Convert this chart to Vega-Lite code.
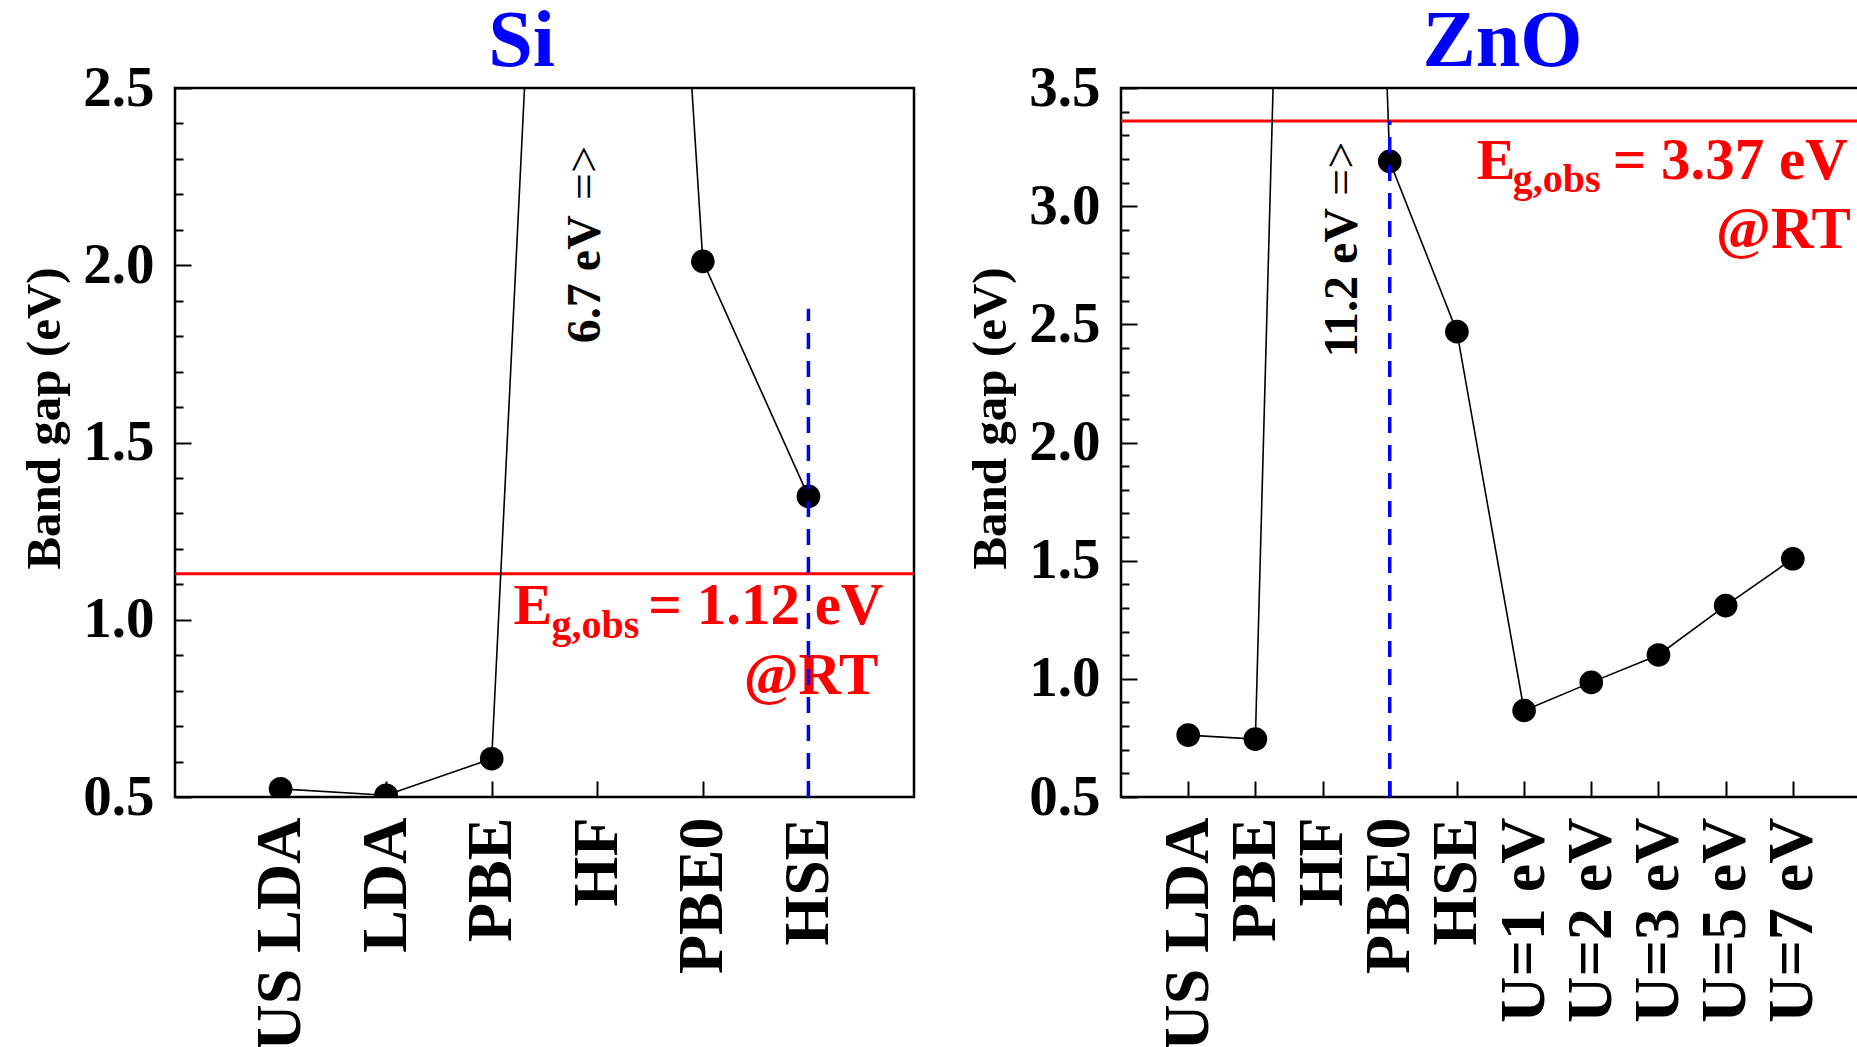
{
  "$schema": "https://vega.github.io/schema/vega-lite/v6.json",
  "background": "white",
  "padding": {"left": 19, "top": 0, "right": 0, "bottom": 0},
  "config": {
    "font": "Liberation Serif",
    "view": {"stroke": "black", "strokeWidth": 2.5},
    "axis": {"grid": false, "domain": false, "labelFont": "Liberation Serif", "labelFontWeight": "bold", "labelColor": "black", "titleFont": "Liberation Serif", "titleFontWeight": "bold", "titleColor": "black", "tickColor": "black", "tickWidth": 2, "labelOverlap": false, "labelLimit": 0}
  },
  "spacing": 48,
  "resolve": {"scale": {"x": "independent", "y": "independent"}},
  "hconcat": [
    {
      "width": 739,
      "height": 709,
      "title": {"text": "Si", "color": "#0000ff", "fontSize": 80, "font": "Liberation Serif", "fontWeight": "bold", "anchor": "middle", "frame": "group", "dx": -23, "offset": -24},
      "layer": [
        {
          "data": {"values": [{"obs": 1.13}]},
          "mark": {"type": "rule", "color": "#ff0000", "strokeWidth": 3},
          "encoding": {"y": {"field": "obs", "type": "quantitative", "scale": {"domain": [0.5, 2.5], "nice": false, "zero": false}}}
        },
        {
          "data": {"values": [
            {"method": "US LDA", "gap": 0.523},
            {"method": "LDA", "gap": 0.505},
            {"method": "PBE", "gap": 0.608},
            {"method": "HF", "gap": 6.7},
            {"method": "PBE0", "gap": 2.011},
            {"method": "HSE", "gap": 1.348}
          ]},
          "layer": [
            {"mark": {"type": "line", "color": "black", "strokeWidth": 1.6, "clip": true}},
            {"mark": {"type": "point", "filled": true, "color": "black", "opacity": 1, "size": 560, "clip": true}}
          ],
          "encoding": {
            "x": {"field": "method", "type": "nominal", "sort": null,
              "scale": {"type": "point", "domain": ["US LDA", "LDA", "PBE", "HF", "PBE0", "HSE"], "padding": 1},
              "axis": {"title": null, "labelAngle": 270, "labelAlign": "right", "labelBaseline": "middle", "labelFontSize": 64, "tickSize": -16, "labelPadding": 36, "labelOverlap": false, "labelLimit": 0}},
            "y": {"field": "gap", "type": "quantitative",
              "scale": {"domain": [0.5, 2.5], "nice": false, "zero": false},
              "axis": {"title": "Band gap (eV)", "titleFontSize": 49, "titlePadding": 13, "titleY": 330, "labelPadding": 37, "labelOverlap": false, "tickCount": 100, "format": ".1f",
                "values": [0.5,0.6,0.7,0.8,0.9,1.0,1.1,1.2,1.3,1.4,1.5,1.6,1.7,1.8,1.9,2.0,2.1,2.2,2.3,2.4,2.5],
                "labelExpr": "indexof(['0.5','1.0','1.5','2.0','2.5','3.0','3.5'], datum.label) >= 0 ? datum.label : ''",
                "labelFontSize": 57,
                "tickSize": {"condition": {"test": "indexof(['0.5','1.0','1.5','2.0','2.5','3.0','3.5'], format(datum.value, '.1f')) >= 0", "value": -16}, "value": -8}}}
          }
        },
        {
          "data": {"values": [{"method": "HF", "gap": 2.161, "note": "6.7 eV"}]},
          "mark": {"type": "text", "angle": 270, "align": "right", "baseline": "middle", "fontSize": 48, "fontWeight": "bold", "font": "Liberation Serif", "color": "black", "dx": -7, "dy": -11},
          "encoding": {"x": {"field": "method", "type": "nominal"}, "y": {"field": "gap", "type": "quantitative"}, "text": {"field": "note"}}
        },
        {
          "data": {"values": [{"method": "HF", "gap": 2.161, "note": "=>"}]},
          "mark": {"type": "text", "angle": 270, "align": "left", "baseline": "middle", "fontSize": 48, "fontWeight": "normal", "font": "Liberation Serif", "color": "black", "dx": 8, "dy": -11},
          "encoding": {"x": {"field": "method", "type": "nominal"}, "y": {"field": "gap", "type": "quantitative"}, "text": {"field": "note"}}
        },
        {
          "data": {"values": [{"method": "HSE", "gap": 1.13, "t": "E"}]},
          "mark": {"type": "text", "align": "left", "baseline": "alphabetic", "fontSize": 58, "fontWeight": "bold", "font": "Liberation Serif", "color": "#ff0000", "dx": -295, "dy": 50},
          "encoding": {"x": {"field": "method", "type": "nominal"}, "y": {"field": "gap", "type": "quantitative"}, "text": {"field": "t"}}
        },
        {
          "data": {"values": [{"method": "HSE", "gap": 1.13, "t": "g,obs"}]},
          "mark": {"type": "text", "align": "left", "baseline": "alphabetic", "fontSize": 40, "fontWeight": "bold", "font": "Liberation Serif", "color": "#ff0000", "dx": -257, "dy": 64},
          "encoding": {"x": {"field": "method", "type": "nominal"}, "y": {"field": "gap", "type": "quantitative"}, "text": {"field": "t"}}
        },
        {
          "data": {"values": [{"method": "HSE", "gap": 1.13, "t": "= 1.12 eV"}]},
          "mark": {"type": "text", "align": "right", "baseline": "alphabetic", "fontSize": 59, "fontWeight": "bold", "font": "Liberation Serif", "color": "#ff0000", "dx": 75, "dy": 50},
          "encoding": {"x": {"field": "method", "type": "nominal"}, "y": {"field": "gap", "type": "quantitative"}, "text": {"field": "t"}}
        },
        {
          "data": {"values": [{"method": "HSE", "gap": 1.13, "t": "@RT"}]},
          "mark": {"type": "text", "align": "right", "baseline": "alphabetic", "fontSize": 59, "fontWeight": "bold", "font": "Liberation Serif", "color": "#ff0000", "dx": 70, "dy": 120},
          "encoding": {"x": {"field": "method", "type": "nominal"}, "y": {"field": "gap", "type": "quantitative"}, "text": {"field": "t"}}
        },
        {
          "data": {"values": [{"method": "HSE", "from": 0.5, "to": 1.877}]},
          "mark": {"type": "rule", "color": "#0000ff", "strokeWidth": 3.5, "strokeDash": [16, 12]},
          "encoding": {"x": {"field": "method", "type": "nominal"}, "y": {"field": "from", "type": "quantitative"}, "y2": {"field": "to"}}
        }
      ]
    },
    {
      "width": 739,
      "height": 709,
      "title": {"text": "ZnO", "color": "#0000ff", "fontSize": 80, "font": "Liberation Serif", "fontWeight": "bold", "anchor": "middle", "frame": "group", "dx": 12, "offset": -24},
      "layer": [
        {
          "data": {"values": [{"obs": 3.36}]},
          "mark": {"type": "rule", "color": "#ff0000", "strokeWidth": 3},
          "encoding": {"y": {"field": "obs", "type": "quantitative", "scale": {"domain": [0.5, 3.5], "nice": false, "zero": false}}}
        },
        {
          "data": {"values": [
            {"method": "US LDA", "gap": 0.762},
            {"method": "PBE", "gap": 0.745},
            {"method": "HF", "gap": 11.2},
            {"method": "PBE0", "gap": 3.19},
            {"method": "HSE", "gap": 2.469},
            {"method": "U=1 eV", "gap": 0.866},
            {"method": "U=2 eV", "gap": 0.985},
            {"method": "U=3 eV", "gap": 1.101},
            {"method": "U=5 eV", "gap": 1.31},
            {"method": "U=7 eV", "gap": 1.508}
          ]},
          "layer": [
            {"mark": {"type": "line", "color": "black", "strokeWidth": 1.6, "clip": true}},
            {"mark": {"type": "point", "filled": true, "color": "black", "opacity": 1, "size": 560, "clip": true}}
          ],
          "encoding": {
            "x": {"field": "method", "type": "nominal", "sort": null,
              "scale": {"type": "point", "domain": ["US LDA", "PBE", "HF", "PBE0", "HSE", "U=1 eV", "U=2 eV", "U=3 eV", "U=5 eV", "U=7 eV"], "padding": 1},
              "axis": {"title": null, "labelAngle": 270, "labelAlign": "right", "labelBaseline": "middle", "labelFontSize": 64, "tickSize": -16, "labelPadding": 36, "labelOverlap": false, "labelLimit": 0}},
            "y": {"field": "gap", "type": "quantitative",
              "scale": {"domain": [0.5, 3.5], "nice": false, "zero": false},
              "axis": {"title": "Band gap (eV)", "titleFontSize": 49, "titlePadding": 13, "titleY": 330, "labelPadding": 37, "labelOverlap": false, "tickCount": 100, "format": ".1f",
                "values": [0.5,0.6,0.7,0.8,0.9,1.0,1.1,1.2,1.3,1.4,1.5,1.6,1.7,1.8,1.9,2.0,2.1,2.2,2.3,2.4,2.5,2.6,2.7,2.8,2.9,3.0,3.1,3.2,3.3,3.4,3.5],
                "labelExpr": "indexof(['0.5','1.0','1.5','2.0','2.5','3.0','3.5'], datum.label) >= 0 ? datum.label : ''",
                "labelFontSize": 57,
                "tickSize": {"condition": {"test": "indexof(['0.5','1.0','1.5','2.0','2.5','3.0','3.5'], format(datum.value, '.1f')) >= 0", "value": -16}, "value": -8}}}
          }
        },
        {
          "data": {"values": [{"method": "HF", "gap": 3.018, "note": "11.2 eV"}]},
          "mark": {"type": "text", "angle": 270, "align": "right", "baseline": "middle", "fontSize": 48, "fontWeight": "bold", "font": "Liberation Serif", "color": "black", "dx": -6, "dy": 20},
          "encoding": {"x": {"field": "method", "type": "nominal"}, "y": {"field": "gap", "type": "quantitative"}, "text": {"field": "note"}}
        },
        {
          "data": {"values": [{"method": "HF", "gap": 3.018, "note": "=>"}]},
          "mark": {"type": "text", "angle": 270, "align": "left", "baseline": "middle", "fontSize": 48, "fontWeight": "normal", "font": "Liberation Serif", "color": "black", "dx": 6, "dy": 20},
          "encoding": {"x": {"field": "method", "type": "nominal"}, "y": {"field": "gap", "type": "quantitative"}, "text": {"field": "note"}}
        },
        {
          "data": {"values": [{"method": "U=7 eV", "gap": 3.36, "t": "E"}]},
          "mark": {"type": "text", "align": "left", "baseline": "alphabetic", "fontSize": 58, "fontWeight": "bold", "font": "Liberation Serif", "color": "#ff0000", "dx": -316, "dy": 58},
          "encoding": {"x": {"field": "method", "type": "nominal"}, "y": {"field": "gap", "type": "quantitative"}, "text": {"field": "t"}}
        },
        {
          "data": {"values": [{"method": "U=7 eV", "gap": 3.36, "t": "g,obs"}]},
          "mark": {"type": "text", "align": "left", "baseline": "alphabetic", "fontSize": 40, "fontWeight": "bold", "font": "Liberation Serif", "color": "#ff0000", "dx": -280, "dy": 71},
          "encoding": {"x": {"field": "method", "type": "nominal"}, "y": {"field": "gap", "type": "quantitative"}, "text": {"field": "t"}}
        },
        {
          "data": {"values": [{"method": "U=7 eV", "gap": 3.36, "t": "= 3.37 eV"}]},
          "mark": {"type": "text", "align": "right", "baseline": "alphabetic", "fontSize": 59, "fontWeight": "bold", "font": "Liberation Serif", "color": "#ff0000", "dx": 55, "dy": 58},
          "encoding": {"x": {"field": "method", "type": "nominal"}, "y": {"field": "gap", "type": "quantitative"}, "text": {"field": "t"}}
        },
        {
          "data": {"values": [{"method": "U=7 eV", "gap": 3.36, "t": "@RT"}]},
          "mark": {"type": "text", "align": "right", "baseline": "alphabetic", "fontSize": 59, "fontWeight": "bold", "font": "Liberation Serif", "color": "#ff0000", "dx": 58, "dy": 127},
          "encoding": {"x": {"field": "method", "type": "nominal"}, "y": {"field": "gap", "type": "quantitative"}, "text": {"field": "t"}}
        },
        {
          "data": {"values": [{"method": "PBE0", "from": 0.5, "to": 3.36}]},
          "mark": {"type": "rule", "color": "#0000ff", "strokeWidth": 3.5, "strokeDash": [16, 12]},
          "encoding": {"x": {"field": "method", "type": "nominal"}, "y": {"field": "from", "type": "quantitative"}, "y2": {"field": "to"}}
        }
      ]
    }
  ]
}
